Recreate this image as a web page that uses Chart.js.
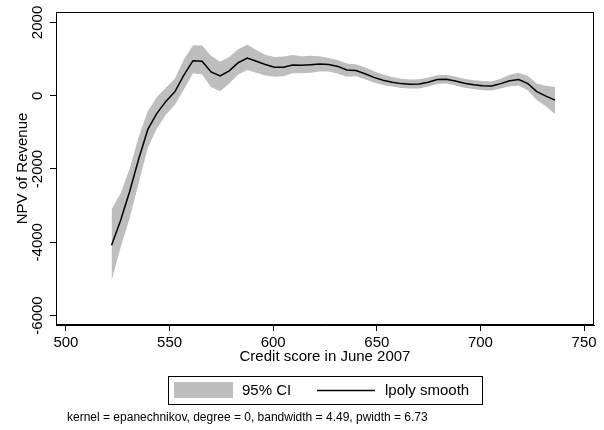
<!DOCTYPE html>
<html>
<head>
<meta charset="utf-8">
<script src="https://cdn.jsdelivr.net/npm/chart.js@4"></script>
<style>
  html, body { margin: 0; padding: 0; background: #fff; }
  #wrap { width: 604px; height: 430px; }
</style>
</head>
<body>
<div id="wrap"><canvas id="npvChart" width="604" height="430"></canvas></div>
<script>
// ── data ──
const scores = [522.0, 526.4, 530.7, 535.1, 539.5, 543.8, 548.2, 552.6, 556.9, 561.3,
                565.7, 570.0, 574.4, 578.8, 583.1, 587.5, 591.9, 596.2, 600.6, 605.0,
                609.3, 613.7, 618.1, 622.4, 626.8, 631.2, 635.5, 639.9, 644.3, 648.6,
                653.0, 657.4, 661.7, 666.1, 670.5, 674.8, 679.2, 683.6, 687.9, 692.3,
                696.7, 701.0, 705.4, 709.8, 714.1, 718.5, 722.9, 727.2, 731.6, 736.0];
const smooth = [-4080, -3400, -2620, -1730, -920, -490, -155, 110, 560, 955,
                940, 650, 540, 680, 900, 1030, 940, 850, 780, 780,
                840, 830, 845, 865, 850, 800, 700, 685, 600, 500,
                420, 370, 330, 315, 320, 370, 440, 450, 400, 340,
                300, 275, 265, 330, 410, 440, 330, 110, -10, -120];
const ciUpper = [-3100, -2660, -2000, -1120, -420, -40, 215, 470, 990, 1380,
                 1370, 1090, 930, 1060, 1270, 1390, 1250, 1120, 1060, 1070,
                 1110, 1080, 1090, 1080, 1030, 970, 880, 860, 780, 670,
                 580, 510, 460, 440, 450, 500, 560, 570, 520, 460,
                 420, 400, 390, 460, 570, 630, 540, 330, 270, 240];
const ciLower = [-5050, -4140, -3350, -2380, -1420, -900, -520, -250, 170, 610,
                 580, 235, 120, 330, 580, 700, 630, 550, 520, 530,
                 610, 610, 630, 660, 660, 600, 520, 530, 450, 360,
                 290, 250, 210, 200, 200, 250, 320, 330, 280, 220,
                 180, 150, 140, 200, 260, 280, 140, -120, -290, -500];
const xTicks = [500, 550, 600, 650, 700, 750];
const yTicks = [-6000, -4000, -2000, 0, 2000];

const FONT = "'Liberation Sans', Arial, sans-serif";

function pts(vals) {
    return scores.map((s, i) => ({ x: s, y: vals[i] }));
}

// frame, rotated y labels, axis titles, legend and note (Stata look)
const stataDecor = {
    id: 'stataDecor',
    afterDraw(chart) {
        const ctx = chart.ctx;
        const a = chart.chartArea;
        const ys = chart.scales.y;
        ctx.save();
        ctx.strokeStyle = '#000';
        ctx.lineWidth = 1;
        ctx.strokeRect(Math.round(a.left) + 0.5, Math.round(a.top) + 0.5,
                       Math.round(a.right - a.left) - 1, Math.round(a.bottom - a.top) - 1);

        ctx.fillStyle = '#000';
        ctx.font = '15px ' + FONT;
        ctx.textAlign = 'center';
        ctx.textBaseline = 'middle';
        yTicks.forEach(v => {
            ctx.save();
            ctx.translate(37.5, ys.getPixelForValue(v));
            ctx.rotate(-Math.PI / 2);
            ctx.fillText(String(v), 0, 0);
            ctx.restore();
        });
        ctx.save();
        ctx.translate(22.5, (a.top + a.bottom) / 2);
        ctx.rotate(-Math.PI / 2);
        ctx.fillText('NPV of Revenue', 0, 0);
        ctx.restore();

        ctx.fillText('Credit score in June 2007', (a.left + a.right) / 2, 357);

        // legend
        ctx.strokeRect(168.5, 376.5, 314, 28);
        ctx.fillStyle = '#bebebe';
        ctx.fillRect(174, 382, 59, 16);
        ctx.fillStyle = '#000';
        ctx.textAlign = 'left';
        ctx.fillText('95% CI', 242, 391);
        ctx.beginPath();
        ctx.lineWidth = 1.5;
        ctx.moveTo(317, 390.5);
        ctx.lineTo(375, 390.5);
        ctx.stroke();
        ctx.fillText('lpoly smooth', 385, 391);

        ctx.font = '12px ' + FONT;
        ctx.fillText('kernel = epanechnikov, degree = 0, bandwidth = 4.49, pwidth = 6.73', 67, 418);
        ctx.restore();
    }
};

new Chart(document.getElementById('npvChart'), {
    type: 'line',
    data: {
        datasets: [
            {
                label: '95% CI',
                data: pts(ciUpper),
                borderWidth: 0,
                pointRadius: 0,
                backgroundColor: '#bebebe',
                fill: '+1',
                order: 2,
            },
            {
                label: 'ci lower',
                data: pts(ciLower),
                borderWidth: 0,
                pointRadius: 0,
                fill: false,
                order: 3,
            },
            {
                label: 'lpoly smooth',
                data: pts(smooth),
                borderColor: '#000',
                borderWidth: 1.5,
                pointRadius: 0,
                fill: false,
                order: 0,
            }
        ]
    },
    options: {
        responsive: false,
        animation: false,
        layout: { padding: { top: 12, right: 10, bottom: 0, left: 0 } },
        plugins: { legend: { display: false }, tooltip: { enabled: false } },
        scales: {
            x: {
                type: 'linear',
                min: 495.2,
                max: 754.8,
                afterBuildTicks: s => { s.ticks = xTicks.map(v => ({ value: v })); },
                afterFit: s => { s.height = 105; },
                grid: { drawOnChartArea: false, drawTicks: true, tickLength: 6, color: '#000' },
                border: { display: true, color: '#000' },
                ticks: { color: '#000', padding: 3, maxRotation: 0, font: { family: FONT, size: 15 } }
            },
            y: {
                type: 'linear',
                min: -6259,
                max: 2285,
                afterBuildTicks: s => { s.ticks = yTicks.map(v => ({ value: v })); },
                afterFit: s => { s.width = 56; },
                grid: { drawOnChartArea: false, drawTicks: true, tickLength: 6, color: '#000' },
                border: { display: true, color: '#000' },
                ticks: { display: false }
            }
        }
    },
    plugins: [stataDecor]
});
</script>
</body>
</html>
